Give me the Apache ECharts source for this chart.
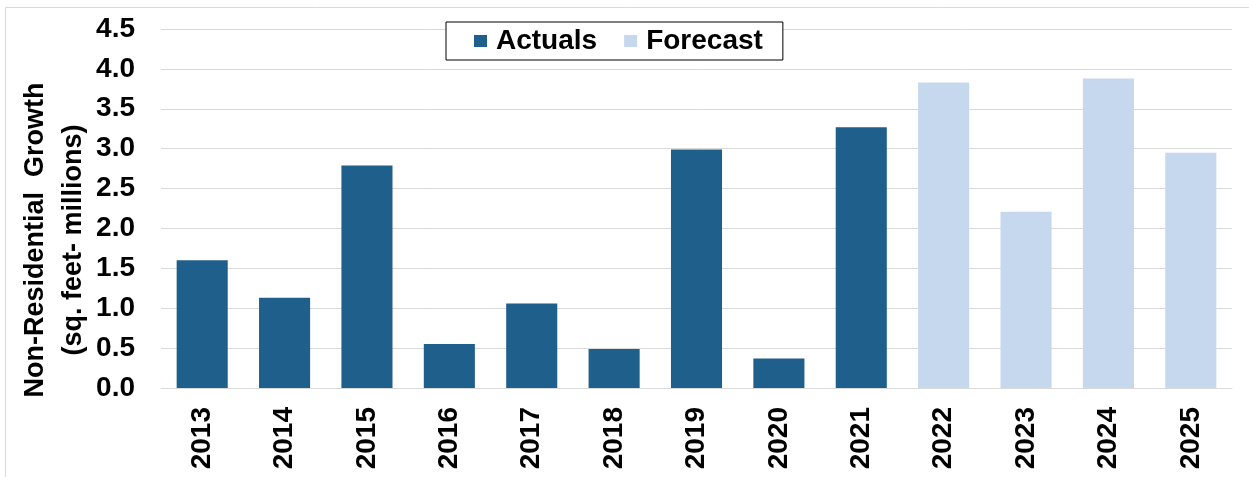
<!DOCTYPE html>
<html>
<head>
<meta charset="utf-8">
<style>
    html, body { margin: 0; padding: 0; background: #fff; }
    #chart_container { width: 1249px; height: 477px; }
</style>
<script src="https://cdn.jsdelivr.net/npm/echarts@6/dist/echarts.min.js"></script>
</head>
<body>
<div id="chart_container"></div>
<script>
"use strict";
var years = ['2013', '2014', '2015', '2016', '2017', '2018', '2019',
    '2020', '2021', '2022', '2023', '2024', '2025'];
// '-' = no bar for that series
var actuals = [1.60, 1.13, 2.79, 0.55, 1.06, 0.49, 2.99, 0.37, 3.27, '-', '-', '-', '-'];
var forecast = ['-', '-', '-', '-', '-', '-', '-', '-', '-', 3.83, 2.21, 3.88, 2.95];
var yTitle = ['Non-Residential  Growth', '(sq. feet- millions)'];

var FONT = '"Liberation Sans", Arial, sans-serif';

var myChart = echarts.init(document.getElementById('chart_container'));

// y axis title, two rotated lines
function titleLine(text, x) {
    return {
        type: 'text',
        x: x,
        y: 240,
        rotation: Math.PI / 2,
        style: {
            text: text,
            font: 'bold 27px ' + FONT,
            fill: '#000',
            align: 'center',
            verticalAlign: 'middle'
        }
    };
}

var option = {
    animation: false,
    textStyle: {fontFamily: FONT},
    graphic: [{
        type: 'rect',
        shape: {x: 5.5, y: 7.5, width: 1300, height: 520},
        style: {fill: 'none', stroke: '#d9d9d9', lineWidth: 1},
        z: -1
    }, titleLine(yTitle[0], 36), titleLine(yTitle[1], 74)],
    legend: {
        left: 446,
        top: 22,
        padding: [5, 20, 5, 28],
        itemGap: 27,
        itemWidth: 13,
        itemHeight: 12,
        borderColor: '#000',
        borderWidth: 1,
        backgroundColor: '#fff',
        icon: 'rect',
        textStyle: {fontSize: 28, fontWeight: 'bold', color: '#000', fontFamily: FONT, padding: [0, 0, 0, 4]},
        data: ['Actuals', 'Forecast']
    },
    grid: {left: 161, right: 17, top: 29, bottom: 89, outerBoundsMode: 'none'},
    xAxis: {
        type: 'category',
        data: years,
        axisLine: {lineStyle: {color: '#d9d9d9', width: 1}},
        axisTick: {show: false},
        axisLabel: {
            rotate: 90,
            interval: 0,
            margin: 19,
            fontSize: 28,
            fontWeight: 'bold',
            color: '#000',
            fontFamily: FONT
        }
    },
    yAxis: {
        type: 'value',
        min: 0,
        max: 4.5,
        interval: 0.5,
        axisLine: {show: false},
        axisTick: {show: false},
        splitLine: {lineStyle: {color: '#d9d9d9', width: 1}},
        axisLabel: {
            margin: 26,
            fontSize: 28,
            fontWeight: 'bold',
            color: '#000',
            fontFamily: FONT,
            formatter: function (v) { return v.toFixed(1); }
        }
    },
    series: [{
        name: 'Actuals',
        type: 'bar',
        data: actuals,
        barWidth: '62%',
        barGap: '-100%',
        itemStyle: {color: '#1f5f8b'}
    }, {
        name: 'Forecast',
        type: 'bar',
        data: forecast,
        barWidth: '62%',
        itemStyle: {color: '#c5d8ee'}
    }]
};
myChart.setOption(option);
</script>
</body>
</html>
